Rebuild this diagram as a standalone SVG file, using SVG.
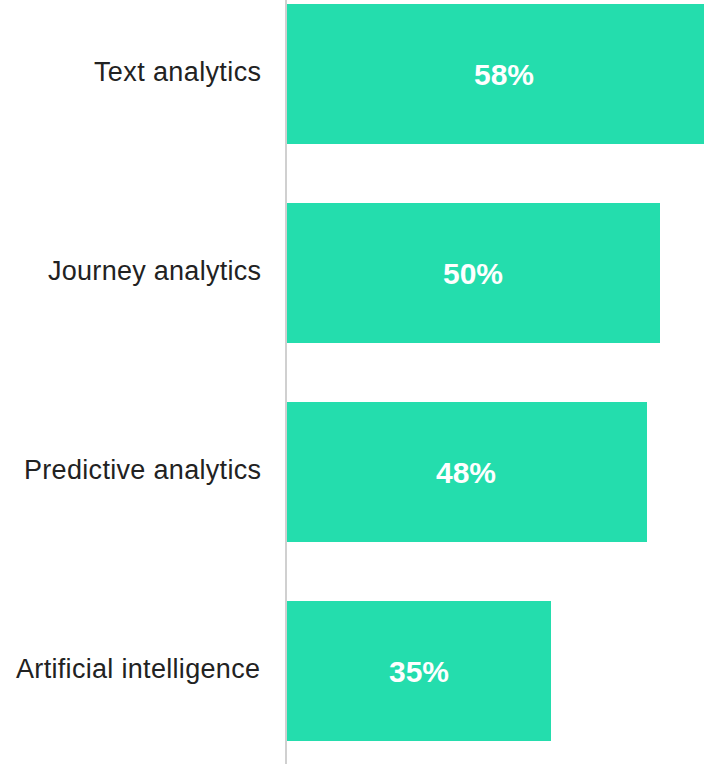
<svg xmlns="http://www.w3.org/2000/svg" width="704" height="764" viewBox="0 0 704 764">
<style>
.bar{fill:#24DDAD}
.lbl{font-family:"Liberation Sans",Arial,sans-serif;font-size:27px;fill:#222222;text-anchor:end}
.val{font-family:"Liberation Sans",Arial,sans-serif;font-size:30px;font-weight:bold;fill:#ffffff;text-anchor:middle}
</style>
<rect width="704" height="764" fill="#ffffff"/>
<g id="axis"><line x1="286" y1="0" x2="286" y2="764" stroke="#d0d0d0" stroke-width="2"/></g>
<g id="text-analytics">
<rect class="bar" x="287" y="4" width="417" height="140"/>
<text class="lbl" x="261" y="81" textLength="167" lengthAdjust="spacing">Text analytics</text>
<text class="val" x="504" y="85">58%</text>
</g>
<g id="journey-analytics">
<rect class="bar" x="287" y="203" width="373" height="140"/>
<text class="lbl" x="261" y="280" textLength="213" lengthAdjust="spacing">Journey analytics</text>
<text class="val" x="473" y="284">50%</text>
</g>
<g id="predictive-analytics">
<rect class="bar" x="287" y="402" width="360" height="140"/>
<text class="lbl" x="261" y="479" textLength="237" lengthAdjust="spacing">Predictive analytics</text>
<text class="val" x="466" y="483">48%</text>
</g>
<g id="artificial-intelligence">
<rect class="bar" x="287" y="601" width="264" height="140"/>
<text class="lbl" x="260" y="678" textLength="244" lengthAdjust="spacing">Artificial intelligence</text>
<text class="val" x="419" y="682">35%</text>
</g>
</svg>
